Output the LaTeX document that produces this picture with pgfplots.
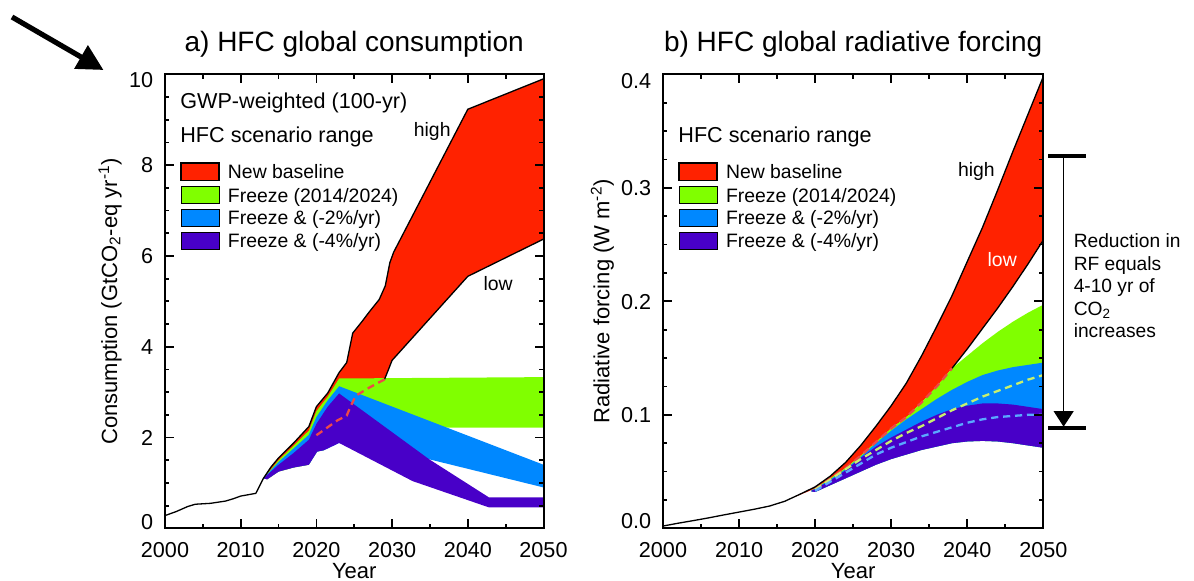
\documentclass[border=0pt]{standalone}
\usepackage{fontspec}
\setmainfont{Liberation Sans}
\usepackage{pgfplots}
\pgfplotsset{compat=1.18}
\usetikzlibrary{arrows.meta}

\definecolor{hfcred}{RGB}{255,34,0}
\definecolor{hfcgreen}{RGB}{128,255,0}
\definecolor{hfcblue}{RGB}{0,136,255}
\definecolor{hfcpurple}{RGB}{72,0,200}
\definecolor{dashred}{RGB}{238,72,72}
\definecolor{dashgreen}{RGB}{200,240,110}
\definecolor{dashblue}{RGB}{90,168,255}

% tick label with its own vertical offset
\newcommand\yl[2]{\smash{\raisebox{#1}{#2}}}

\tikzset{note/.style={anchor=base west, inner sep=0pt, font=\fontsize{9.6}{11}\selectfont}}

\pgfplotsset{
  hfc/.style={
    scale only axis, height=227pt,
    xmin=2000, xmax=2050,
    xtick={2000,2010,2020,2030,2040,2050},
    xticklabels={2000,2010,2020,2030,2040,2050},
    minor x tick num=1,
    tick align=inside,
    major tick length=4.5pt, minor tick length=2.2pt,
    tick style={black, line width=0.9pt},
    axis line style={line width=1pt},
    axis on top,
    clip=false,
    tick label style={font=\fontsize{10.8}{13}\selectfont},
    xticklabel style={anchor=base, yshift=-14.5pt},
    yticklabel style={anchor=east, xshift=-2.4pt},
    label style={font=\fontsize{11}{13}\selectfont},
    xlabel={Year},
    xlabel style={at={(axis description cs:0.5,0)}, anchor=base, yshift=-24.9pt,
      inner sep=0pt, text depth=0pt},
    title style={at={(axis description cs:0.5,1)}, anchor=base, yshift=5.5pt,
      font=\fontsize{14}{17}\selectfont},
    legend cell align=left,
    legend style={anchor=north west, draw=none, fill=none, inner sep=0pt,
      row sep=2.25pt, column sep=4pt, font=\fontsize{9.7}{11}\selectfont,
      nodes={inner sep=0pt, text height=8pt, text depth=1pt}},
  },
  band/.style={draw=none, fill=#1, forget plot},
  dashln/.style={#1, line width=1.15pt, dash pattern=on 3.6pt off 2.4pt, forget plot},
  outline/.style={black, line width=0.65pt, forget plot},
  swatch/.style={legend image code/.code={\fill[#1] (0pt,-4.4pt) rectangle (19pt,4.4pt);}},
}

\begin{document}
\begin{tikzpicture}

% ---------------- a) consumption ----------------
\begin{axis}[hfc, width=189.25pt, at={(0pt,0pt)}, anchor=south west,
  ymin=0, ymax=10, ytick={0,2,4,6,8,10}, minor y tick num=3,
  yticklabels={\yl{-0.6pt}{0},\yl{-3.85pt}{2},\yl{-3.85pt}{4},\yl{-3.85pt}{6},\yl{-3.85pt}{8},\yl{-6.7pt}{10}},
  title={a) HFC global consumption},
  ylabel={Consumption (GtCO\textsubscript{2}-eq yr\textsuperscript{-1})},
  ylabel style={at={(axis description cs:-0.1266,0.5)}, anchor=base},
  legend style={at={(axis description cs:0.0396,0.8075)}},
]
\addplot[band=hfcred] coordinates {(2013,1.10)(2014,1.35)(2015,1.55)(2017,1.88)(2019,2.24)(2020,2.68)(2021.5,2.98)(2023,3.43)(2024,3.65)(2024.8,4.30)(2026,4.55)(2027,4.77)(2028.3,5.04)(2029.1,5.34)(2029.7,5.85)(2030.2,6.08)(2040,9.23)(2050,9.90)
  (2050,6.37)(2040,5.55)(2030,3.70)(2029,3.28)(2027,3.10)(2025.2,2.92)(2024.5,2.68)(2024,2.48)(2022.8,2.38)(2020,2.05)(2019,1.40)(2017,1.34)(2015,1.25)(2013.5,1.08)(2013,1.10)};
\addplot[band=hfcgreen] coordinates {(2013,1.10)(2015,1.50)(2017,1.82)(2019,2.15)(2020,2.58)(2021.5,2.90)(2023,3.30)(2050,3.33)
  (2050,2.22)(2023,2.22)(2021,1.72)(2020.1,1.69)(2019,1.40)(2017,1.34)(2015,1.25)(2013.5,1.08)(2013,1.10)};
\addplot[band=hfcblue] coordinates {(2013,1.10)(2015,1.46)(2017,1.76)(2019,2.06)(2020,2.45)(2021.5,2.82)(2023,3.13)(2050,1.40)
  (2050,0.90)(2034.9,1.52)(2023,1.88)(2021,1.72)(2020.1,1.69)(2019,1.40)(2017,1.34)(2015,1.25)(2013.5,1.08)(2013,1.10)};
\addplot[band=hfcpurple] coordinates {(2013,1.10)(2015,1.40)(2017,1.66)(2019,1.95)(2020,2.30)(2021.5,2.68)(2023,2.97)(2034.9,1.52)(2042.8,0.68)(2050,0.68)
  (2050,0.46)(2042.8,0.46)(2032.7,1.04)(2023,1.88)(2021,1.72)(2020.1,1.69)(2019,1.40)(2017,1.34)(2015,1.25)(2013.5,1.08)(2013,1.10)};
\addplot[outline] coordinates {(2000,0.28)(2001.5,0.37)(2003,0.48)(2004,0.53)(2006,0.55)(2008,0.60)(2009,0.65)(2010,0.71)(2012,0.77)(2013,1.10)(2014,1.35)(2015,1.55)(2017,1.88)(2019,2.24)(2020,2.68)(2021.5,2.98)(2023,3.43)(2024,3.65)(2024.8,4.30)(2026,4.55)(2027,4.77)(2028.3,5.04)(2029.1,5.34)(2029.7,5.85)(2030.2,6.08)(2040,9.23)(2050,9.90)};
\addplot[outline] coordinates {(2029,3.28)(2030,3.70)(2040,5.55)(2050,6.37)};
\addplot[dashln=dashred] coordinates {(2020,2.05)(2022.8,2.38)(2024,2.48)(2024.5,2.68)(2025.2,2.92)(2027,3.10)(2029,3.28)};

\addlegendimage{swatch={fill=hfcred,draw=black,line width=0.8pt}}
\addlegendentry{New baseline}
\addlegendimage{swatch={fill=hfcgreen}}
\addlegendentry{Freeze (2014/2024)}
\addlegendimage{swatch={fill=hfcblue}}
\addlegendentry{Freeze \& (-2\%/yr)}
\addlegendimage{swatch={fill=hfcpurple}}
\addlegendentry{Freeze \& (-4\%/yr)}

\node[anchor=base west, inner sep=0pt, font=\fontsize{10.8}{13}\selectfont]
  at (axis description cs:0.0396,0.9236) {GWP-weighted (100-yr)};
\node[anchor=base west, inner sep=0pt, font=\fontsize{10.8}{13}\selectfont]
  at (axis description cs:0.0396,0.8493) {HFC scenario range};
\node[anchor=base, inner sep=0pt, font=\fontsize{9.7}{11}\selectfont] at (axis cs:2035.3,8.64) {high};
\node[anchor=base, inner sep=0pt, font=\fontsize{9.7}{11}\selectfont] at (axis cs:2044,5.23) {low};
\end{axis}

% ---------------- b) radiative forcing ----------------
\begin{axis}[hfc, width=190.15pt, at={(249pt,0pt)}, anchor=south west,
  ymin=0, ymax=0.4, ytick={0,0.1,0.2,0.3,0.4}, minor y tick num=3,
  yticklabels={\yl{-0.3pt}{0.0},\yl{-3.85pt}{0.1},\yl{-3.85pt}{0.2},\yl{-3.85pt}{0.3},\yl{-6.9pt}{0.4}},
  title={b) HFC global radiative forcing},
  ylabel={Radiative forcing (W m\textsuperscript{-2})},
  ylabel style={at={(axis description cs:-0.1408,0.5)}, anchor=base},
  legend style={at={(axis description cs:0.0395,0.8075)}},
]
\addplot[band=hfcred] coordinates {(2017,0.0268)(2018,0.0300)(2020,0.0365)(2022,0.046)(2024,0.058)(2026,0.073)(2028,0.090)(2030,0.108)(2032,0.128)(2034,0.152)(2036,0.178)(2038,0.205)(2040,0.235)(2042,0.265)(2044,0.298)(2046,0.332)(2048,0.365)(2050,0.398)
  (2050,0.254)(2048,0.233)(2046,0.213)(2044,0.194)(2042,0.176)(2040,0.158)(2038,0.141)(2036,0.125)(2034,0.111)(2032,0.098)(2030,0.088)(2028,0.076)(2026,0.064)(2024,0.053)(2022,0.044)(2020,0.035)(2018,0.0295)(2017,0.0268)};
\addplot[band=hfcgreen] coordinates {(2019.5,0.0335)(2020,0.035)(2022,0.044)(2024,0.053)(2026,0.064)(2028,0.076)(2030,0.088)(2032,0.098)(2034,0.111)(2036,0.125)(2038,0.141)(2040,0.152)(2042,0.163)(2044,0.173)(2046,0.182)(2048,0.190)(2050,0.197)
  (2050,0.071)(2048,0.073)(2046,0.075)(2044,0.0765)(2042,0.077)(2040,0.0765)(2038,0.075)(2036,0.072)(2034,0.069)(2032,0.065)(2030,0.061)(2028,0.056)(2026,0.050)(2024,0.044)(2022,0.038)(2020,0.032)(2019.5,0.0325)};
\addplot[band=hfcblue] coordinates {(2019.5,0.0333)(2020,0.0348)(2022,0.043)(2024,0.052)(2026,0.063)(2028,0.075)(2030,0.086)(2032,0.096)(2034,0.105)(2036,0.114)(2038,0.122)(2040,0.129)(2042,0.135)(2044,0.139)(2046,0.142)(2048,0.144)(2050,0.146)
  (2050,0.071)(2048,0.073)(2046,0.075)(2044,0.0765)(2042,0.077)(2040,0.0765)(2038,0.075)(2036,0.072)(2034,0.069)(2032,0.065)(2030,0.061)(2028,0.056)(2026,0.050)(2024,0.044)(2022,0.038)(2020,0.032)(2019.5,0.0325)};
\addplot[band=hfcpurple] coordinates {(2019.5,0.033)(2020,0.0345)(2022,0.042)(2024,0.051)(2026,0.062)(2028,0.072)(2030,0.080)(2032,0.087)(2034,0.094)(2036,0.100)(2038,0.105)(2040,0.108)(2042,0.110)(2044,0.110)(2046,0.109)(2048,0.107)(2050,0.105)
  (2050,0.071)(2048,0.073)(2046,0.075)(2044,0.0765)(2042,0.077)(2040,0.0765)(2038,0.075)(2036,0.072)(2034,0.069)(2032,0.065)(2030,0.061)(2028,0.056)(2026,0.050)(2024,0.044)(2022,0.038)(2020,0.032)(2019.5,0.0325)};
\addplot[dashln=dashred] coordinates {(2020,0.035)(2022,0.044)(2024,0.053)(2026,0.064)(2028,0.076)(2030,0.088)(2032,0.098)(2034,0.111)(2036,0.125)(2038,0.141)};
\addplot[dashln=dashgreen] coordinates {(2020,0.034)(2022,0.043)(2024,0.052)(2026,0.061)(2028,0.069)(2030,0.077)(2032,0.084)(2034,0.090)(2036,0.097)(2038,0.104)(2040,0.110)(2042,0.116)(2044,0.121)(2046,0.126)(2048,0.131)(2050,0.135)};
\addplot[dashln=dashblue] coordinates {(2020,0.033)(2022,0.041)(2024,0.049)(2026,0.057)(2028,0.065)(2030,0.071)(2032,0.076)(2034,0.081)(2036,0.085)(2038,0.089)(2040,0.093)(2042,0.096)(2044,0.098)(2046,0.099)(2048,0.100)(2050,0.100)};
\addplot[outline] coordinates {(2000,0.002)(2002,0.0045)(2004,0.0068)(2006,0.0092)(2008,0.0118)(2010,0.0143)(2012,0.0168)(2014,0.0196)(2016,0.0238)(2018,0.0300)(2020,0.0365)(2022,0.046)(2024,0.058)(2026,0.073)(2028,0.090)(2030,0.108)(2032,0.128)(2034,0.152)(2036,0.178)(2038,0.205)(2040,0.235)(2042,0.265)(2044,0.298)(2046,0.332)(2048,0.365)(2050,0.398)};
\addplot[outline] coordinates {(2038,0.141)(2040,0.158)(2042,0.176)(2044,0.194)(2046,0.213)(2048,0.233)(2050,0.254)};

\addlegendimage{swatch={fill=hfcred,draw=black,line width=0.8pt}}
\addlegendentry{New baseline}
\addlegendimage{swatch={fill=hfcgreen}}
\addlegendentry{Freeze (2014/2024)}
\addlegendimage{swatch={fill=hfcblue}}
\addlegendentry{Freeze \& (-2\%/yr)}
\addlegendimage{swatch={fill=hfcpurple}}
\addlegendentry{Freeze \& (-4\%/yr)}

\node[anchor=base west, inner sep=0pt, font=\fontsize{10.8}{13}\selectfont]
  at (axis description cs:0.0395,0.8493) {HFC scenario range};
\node[anchor=base, inner sep=0pt, font=\fontsize{9.7}{11}\selectfont] at (axis cs:2041.2,0.310) {high};
\node[anchor=base, inner sep=0pt, white, font=\fontsize{9.7}{11}\selectfont] at (axis cs:2044.6,0.231) {low};

% reduction marker
\draw[line width=1.7pt] (axis cs:2050.66,0.328) -- (axis cs:2055.66,0.328);
\draw[line width=1.7pt] (axis cs:2050.66,0.0883) -- (axis cs:2055.66,0.0883);
\draw[line width=0.7pt] (axis cs:2052.65,0.328) -- (axis cs:2052.65,0.100);
\fill (axis cs:2051.35,0.1032) -- (axis cs:2054.0,0.1032) -- (axis cs:2052.67,0.0895) -- cycle;
\node[note] at (axis cs:2053.95,0.2471) {Reduction in};
\node[note] at (axis cs:2053.95,0.2272) {RF equals};
\node[note] at (axis cs:2053.95,0.2074) {4-10 yr of};
\node[note] at (axis cs:2053.95,0.1875) {CO\textsubscript{2}};
\node[note] at (axis cs:2053.95,0.1677) {increases};
\end{axis}

\draw[line width=2.6pt, -{Triangle[length=13pt,width=13pt]}] (-76.5pt,255.65pt) -- (-30.75pt,229.15pt);

\pgfresetboundingbox
\useasboundingbox (-82.5pt,-25.85pt) rectangle (514.5pt,264.15pt);
\end{tikzpicture}
\end{document}
